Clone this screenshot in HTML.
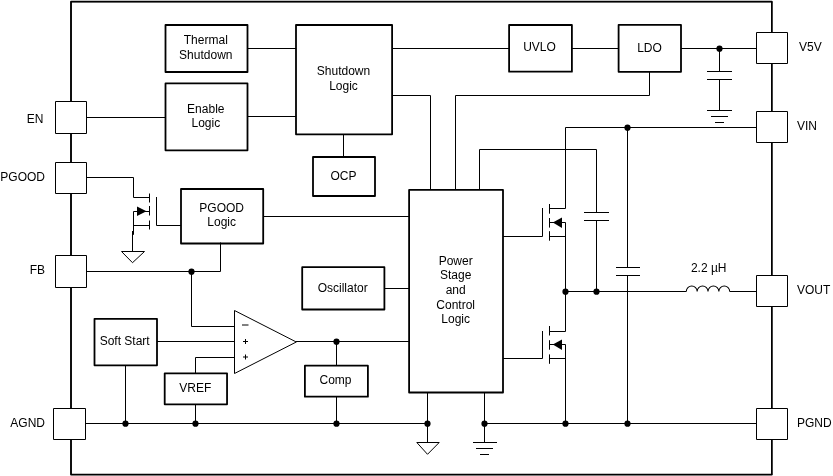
<!DOCTYPE html>
<html><head><meta charset="utf-8"><style>
html,body{margin:0;padding:0;background:#fff;width:833px;height:476px;overflow:hidden}
svg{display:block;will-change:transform}
path,rect,circle{fill:none;stroke:#000}
rect{fill:#fff;stroke-linejoin:round}
rect.pin{fill:#fff}
circle.dot{fill:#000;stroke:none}
path.fill{fill:#000;stroke:none}
path.open{fill:#fff;stroke-width:1}
text{font-family:"Liberation Sans",sans-serif;font-size:12px;fill:#000;stroke:none}
</style></head><body>
<svg width="833" height="476" viewBox="0 0 833 476">
<rect x="71" y="1.7" width="701" height="472.8" stroke="none"/>
<path d="M771.8,474.6 L71,474.6 L71,1.65 L771.8,1.65" stroke-width="1.75" stroke-linejoin="round" stroke-linecap="round"/>
<path d="M771.75,1.65 L771.75,474.6" stroke-width="1.5"/>
<rect x="165.5" y="25" width="82.0" height="47" stroke-width="1.8"/>
<text x="205.8" y="43.9" text-anchor="middle">Thermal</text>
<text x="205.8" y="58.6" text-anchor="middle">Shutdown</text>
<rect x="165.5" y="83.45" width="82.0" height="66.85000000000001" stroke-width="1.8"/>
<text x="205.8" y="112.6" text-anchor="middle">Enable</text>
<text x="205.8" y="127" text-anchor="middle">Logic</text>
<rect x="296" y="25" width="96.10000000000002" height="109.30000000000001" stroke-width="1.8"/>
<text x="343.5" y="74.9" text-anchor="middle">Shutdown</text>
<text x="343.5" y="89.5" text-anchor="middle">Logic</text>
<rect x="313" y="157" width="62" height="39" stroke-width="1.8"/>
<text x="343.5" y="179.8" text-anchor="middle">OCP</text>
<rect x="509.1" y="25" width="62.799999999999955" height="46.7" stroke-width="1.8"/>
<text x="539.5" y="51.1" text-anchor="middle">UVLO</text>
<rect x="618.6" y="24.9" width="62.39999999999998" height="46.949999999999996" stroke-width="1.8"/>
<text x="649.5" y="52.2" text-anchor="middle">LDO</text>
<rect x="181" y="189" width="82.19999999999999" height="54.5" stroke-width="1.8"/>
<text x="221.7" y="211.9" text-anchor="middle">PGOOD</text>
<text x="221.7" y="226.2" text-anchor="middle">Logic</text>
<rect x="302.2" y="267.2" width="82.19999999999999" height="42.30000000000001" stroke-width="1.8"/>
<text x="342.7" y="291.8" text-anchor="middle">Oscillator</text>
<rect x="409.1" y="189.9" width="93.89999999999998" height="202.6" stroke-width="1.8"/>
<text x="455.7" y="264.9" text-anchor="middle">Power</text>
<text x="455.7" y="279.45" text-anchor="middle">Stage</text>
<text x="455.7" y="294.0" text-anchor="middle">and</text>
<text x="455.7" y="308.54999999999995" text-anchor="middle">Control</text>
<text x="455.7" y="323.09999999999997" text-anchor="middle">Logic</text>
<rect x="94.5" y="318.8" width="62.5" height="46.5" stroke-width="1.8"/>
<text x="124.7" y="344.8" text-anchor="middle">Soft Start</text>
<rect x="164.7" y="373.35" width="62.35000000000002" height="30.94999999999999" stroke-width="1.8"/>
<text x="195.3" y="391.8" text-anchor="middle">VREF</text>
<rect x="304.9" y="365.7" width="63.0" height="31.0" stroke-width="1.8"/>
<text x="335.5" y="384.3" text-anchor="middle">Comp</text>
<path d="M247.5,48.5 L296,48.5" stroke-width="1"/>
<path d="M86.5,117.5 L166,117.5" stroke-width="1"/>
<path d="M247.5,116.5 L296,116.5" stroke-width="1"/>
<path d="M392,48.5 L509,48.5" stroke-width="1"/>
<path d="M571.5,48.5 L619,48.5" stroke-width="1"/>
<path d="M681,48.5 L756.5,48.5" stroke-width="1"/>
<circle class="dot" cx="719.5" cy="48.7" r="3.1"/>
<path d="M719.5,48.5 L719.5,71.5" stroke-width="1"/>
<path d="M707,71.5 L732,71.5" stroke-width="1"/>
<path d="M707,79.5 L732,79.5" stroke-width="1"/>
<path d="M719.5,79.5 L719.5,110.5" stroke-width="1"/>
<path d="M707,110.5 L732,110.5" stroke-width="1"/>
<path d="M711,116.5 L728,116.5" stroke-width="1"/>
<path d="M715,122.5 L724,122.5" stroke-width="1"/>
<path d="M392,95.5 L430.5,95.5 L430.5,190" stroke-width="1"/>
<path d="M455.5,190 L455.5,95.5 L649.5,95.5 L649.5,71.5" stroke-width="1"/>
<path d="M479.5,190 L479.5,149.5 L596.5,149.5 L596.5,212.5" stroke-width="1"/>
<path d="M584,212.5 L609,212.5" stroke-width="1"/>
<path d="M584,220.5 L609,220.5" stroke-width="1"/>
<path d="M596.5,220.5 L596.5,291.5" stroke-width="1"/>
<path d="M565.5,208.5 L565.5,127.5 L756.5,127.5" stroke-width="1"/>
<circle class="dot" cx="627.5" cy="127.7" r="3.1"/>
<path d="M627.5,127.5 L627.5,267.5" stroke-width="1"/>
<path d="M616,267.5 L640,267.5" stroke-width="1"/>
<path d="M616,275.5 L640,275.5" stroke-width="1"/>
<path d="M627.5,275.5 L627.5,423.5" stroke-width="1"/>
<path d="M343.5,134 L343.5,157" stroke-width="1"/>
<path d="M86.5,177.5 L133.5,177.5 L133.5,197.5 L149.5,197.5" stroke-width="1"/>
<path d="M149.5,193.5 L149.5,202.5" stroke-width="1"/>
<path d="M149.5,206 L149.5,215.5" stroke-width="1"/>
<path d="M149.5,220.5 L149.5,229.5" stroke-width="1"/>
<path d="M156.5,197 L156.5,225.5 L181,225.5" stroke-width="1"/>
<path d="M133.5,211.5 L149.5,211.5" stroke-width="1"/>
<path d="M133.5,225.5 L149.5,225.5" stroke-width="1"/>
<path class="fill" d="M137,206.5 L146.5,211.2 L137,216 Z"/>
<path d="M133.5,211.5 L133.5,234.8" stroke-width="1"/>
<path d="M132.5,231 L132.5,251.5" stroke-width="1"/>
<path class="open" d="M121.5,251.5 L144.5,251.5 L132.5,262.7 Z"/>
<path d="M263,216.5 L409,216.5" stroke-width="1"/>
<path d="M220.5,242.5 L220.5,271.5 L86.5,271.5" stroke-width="1"/>
<circle class="dot" cx="191.5" cy="271.7" r="3.1"/>
<path d="M191.5,271.5 L191.5,326.5 L234.5,326.5" stroke-width="1"/>
<path d="M157,341.5 L234.5,341.5" stroke-width="1"/>
<path d="M195.5,373.3 L195.5,357.5 L234.5,357.5" stroke-width="1"/>
<path class="open" d="M234.5,310.5 L234.5,373.5 L296.3,342 Z" stroke-width="1"/>
<path d="M242,325 L248.5,325" stroke-width="1"/>
<path d="M243,341.5 L248,341.5 M245.5,339 L245.5,344" stroke-width="1"/>
<path d="M243,357 L248,357 M245.5,354.5 L245.5,359.5" stroke-width="1"/>
<path d="M296,341.5 L409,341.5" stroke-width="1"/>
<circle class="dot" cx="336.5" cy="341.7" r="3.1"/>
<path d="M336.5,341.5 L336.5,365.5" stroke-width="1"/>
<path d="M336.5,396.5 L336.5,423.5" stroke-width="1"/>
<path d="M125.5,365 L125.5,423.5" stroke-width="1"/>
<path d="M195.5,404 L195.5,423.5" stroke-width="1"/>
<path d="M85.5,423.5 L427.5,423.5" stroke-width="1"/>
<circle class="dot" cx="125.5" cy="423.7" r="3.1"/>
<circle class="dot" cx="195.5" cy="423.7" r="3.1"/>
<circle class="dot" cx="336.5" cy="423.7" r="3.1"/>
<circle class="dot" cx="427.5" cy="423.7" r="3.1"/>
<path d="M384,288.5 L409,288.5" stroke-width="1"/>
<path d="M427.5,392 L427.5,442.5" stroke-width="1"/>
<path class="open" d="M416.8,442.5 L439.2,442.5 L427.5,454.3 Z"/>
<path d="M484.5,392 L484.5,442.5" stroke-width="1"/>
<path d="M473,442.5 L497,442.5" stroke-width="1"/>
<path d="M476,448.5 L493,448.5" stroke-width="1"/>
<path d="M480,454.5 L489,454.5" stroke-width="1"/>
<path d="M484.5,423.5 L756.5,423.5" stroke-width="1"/>
<circle class="dot" cx="484.5" cy="423.7" r="3.1"/>
<circle class="dot" cx="565.5" cy="423.7" r="3.1"/>
<circle class="dot" cx="627.5" cy="423.7" r="3.1"/>
<path d="M503,236.5 L542.5,236.5 L542.5,208" stroke-width="1"/>
<path d="M549.5,204 L549.5,213.7" stroke-width="1"/>
<path d="M549.5,218 L549.5,227.6" stroke-width="1"/>
<path d="M549.5,231.2 L549.5,240.7" stroke-width="1"/>
<path d="M549.5,208.5 L565.5,208.5" stroke-width="1"/>
<path d="M549.5,222.5 L565.5,222.5" stroke-width="1"/>
<path d="M549.5,236.5 L565.5,236.5" stroke-width="1"/>
<path class="fill" d="M552.8,222.5 L562,217.6 L562,228.0 Z"/>
<path d="M503,358.5 L542.5,358.5 L542.5,331" stroke-width="1"/>
<path d="M549.5,326 L549.5,335.5" stroke-width="1"/>
<path d="M549.5,340.2 L549.5,349.7" stroke-width="1"/>
<path d="M549.5,354.4 L549.5,363.8" stroke-width="1"/>
<path d="M549.5,331.5 L565.5,331.5" stroke-width="1"/>
<path d="M549.5,344.5 L565.5,344.5" stroke-width="1"/>
<path d="M549.5,358.5 L565.5,358.5" stroke-width="1"/>
<path class="fill" d="M552.8,344.5 L562,339.6 L562,350.0 Z"/>
<path d="M565.5,222.5 L565.5,331.5" stroke-width="1"/>
<path d="M565.5,344.5 L565.5,423.5" stroke-width="1"/>
<path d="M565.5,291.5 L686.3,291.5" stroke-width="1"/>
<circle class="dot" cx="565.5" cy="291.7" r="3.1"/>
<circle class="dot" cx="596.5" cy="291.7" r="3.1"/>
<path d="M686.3,291.5 A5.425,5.425 0 0 1 697.15,291.5 A5.425,5.425 0 0 1 708.00,291.5 A5.425,5.425 0 0 1 718.85,291.5 A5.425,5.425 0 0 1 729.70,291.5" stroke-width="1.05"/>
<path d="M729.7,291.5 L756.5,291.5" stroke-width="1"/>
<text x="708.7" y="271.8" text-anchor="middle">2.2 µH</text>
<rect class="pin" x="55.5" y="101.5" width="31.0" height="32.0" stroke-width="1"/>
<text x="43.5" y="123" text-anchor="end">EN</text>
<rect class="pin" x="55.5" y="162.5" width="31.0" height="31.0" stroke-width="1"/>
<text x="45" y="180.6" text-anchor="end">PGOOD</text>
<rect class="pin" x="55.5" y="255.5" width="31.0" height="32.0" stroke-width="1"/>
<text x="45" y="274.4" text-anchor="end">FB</text>
<rect class="pin" x="53.5" y="408.5" width="32.0" height="31.0" stroke-width="1"/>
<text x="45" y="426.8" text-anchor="end">AGND</text>
<rect class="pin" x="756.5" y="32.5" width="31.0" height="31.0" stroke-width="1"/>
<text x="799" y="51.1" text-anchor="start">V5V</text>
<rect class="pin" x="756.5" y="111.5" width="31.0" height="31.0" stroke-width="1"/>
<text x="797" y="130" text-anchor="start">VIN</text>
<rect class="pin" x="756.5" y="275.5" width="31.0" height="31.0" stroke-width="1"/>
<text x="797" y="293.8" text-anchor="start">VOUT</text>
<rect class="pin" x="756.5" y="408.5" width="31.0" height="31.0" stroke-width="1"/>
<text x="797" y="426.7" text-anchor="start">PGND</text>
</svg>
</body></html>
